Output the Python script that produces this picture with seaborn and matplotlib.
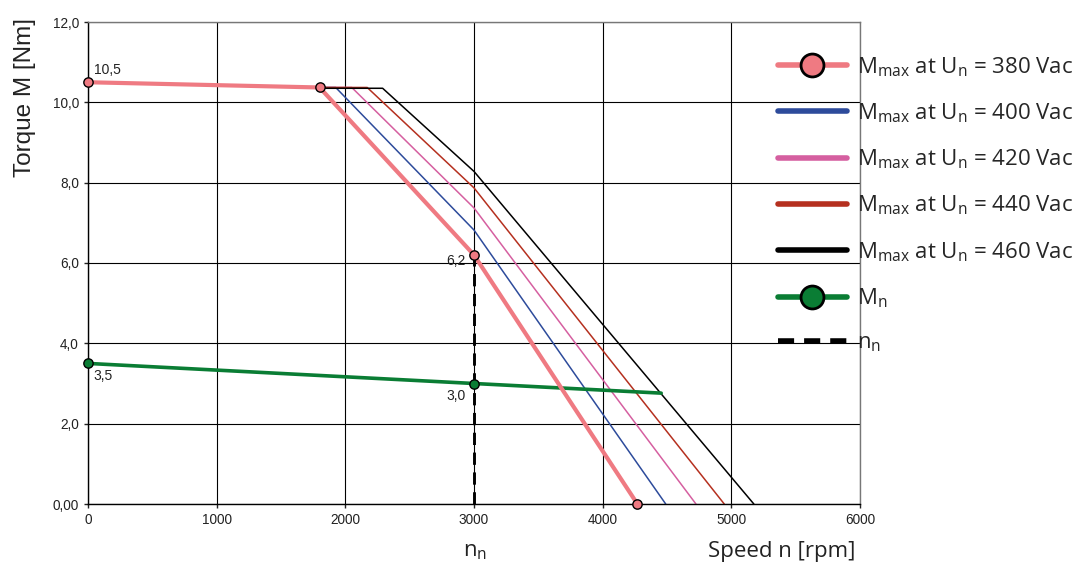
import pandas as pd
import matplotlib.pyplot as plt
import seaborn as sns
from matplotlib.lines import Line2D

# corner points of the curves, speed [rpm] / torque [Nm]
speed_380 = [0, 1800, 3000, 4270]
torque_380 = [10.5, 10.37, 6.2, 0.0]
speed_400 = [1800, 1925, 3000, 4490]
torque_400 = [10.37, 10.37, 6.82, 0.0]
speed_420 = [1800, 2050, 3000, 4725]
torque_420 = [10.37, 10.37, 7.37, 0.0]
speed_440 = [1800, 2170, 3000, 4945]
torque_440 = [10.37, 10.37, 7.87, 0.0]
speed_460 = [1800, 2290, 3000, 5175]
torque_460 = [10.35, 10.35, 8.28, 0.0]
speed_mn = [0, 1800, 3000, 4455]
torque_mn = [3.5, 3.2, 3.0, 2.76]
speed_nn = [3000, 3000]
torque_nn = [0.0, 6.2]

# marked points and their value labels
pts_380_x = [0, 1800, 3000, 4270]
pts_380_y = [10.5, 10.37, 6.2, 0.0]
pts_mn_x = [0, 3000]
pts_mn_y = [3.5, 3.0]
value_labels = ["10,5", "6,2", "3,5", "3,0"]
value_x = [0, 3000, 0, 3000]
value_y = [10.5, 6.2, 3.5, 3.0]

x_ticks = [0, 1000, 2000, 3000, 4000, 5000, 6000]
y_ticks = [0, 2, 4, 6, 8, 10, 12]
y_ticklabels = ["0,00", "2,0", "4,0", "6,0", "8,0", "10,0", "12,0"]

voltages = ["380", "400", "420", "440", "460"]
colors = ["#EF7A82", "#2D4B9B", "#D55FA0", "#B5301F", "#000000"]
green = "#0A7D34"

sns.set_style("white")
plt.rcParams['font.family'] = ['Liberation Sans', 'DejaVu Sans']
plt.rcParams['mathtext.fontset'] = 'custom'
plt.rcParams['mathtext.rm'] = 'Open Sans'
plt.rcParams['mathtext.it'] = 'Open Sans'

fig = plt.figure(figsize=(10.9, 5.66), dpi=100)
ax = fig.add_axes([88 / 1090, 1 - 504 / 566, (860 - 88) / 1090, (504 - 22) / 566])

# thin curves for the higher voltages
thin = [(speed_400, torque_400), (speed_420, torque_420),
        (speed_440, torque_440), (speed_460, torque_460)]
for (sx, ty), c in zip(thin, colors[1:]):
    sns.lineplot(x=sx, y=ty, ax=ax, color=c, lw=1.1, sort=False, estimator=None)

sns.lineplot(x=speed_mn, y=torque_mn, ax=ax, color=green, lw=2.6, sort=False, estimator=None)
sns.lineplot(x=speed_380, y=torque_380, ax=ax, color=colors[0], lw=3.0, sort=False, estimator=None)
ax.plot(speed_nn, torque_nn, color="black", lw=2.1, dashes=(4.2, 2.6), zorder=3)

sns.scatterplot(x=pts_380_x, y=pts_380_y, ax=ax, color=colors[0], edgecolor="black",
                linewidth=1, s=45, zorder=5, clip_on=False)
sns.scatterplot(x=pts_mn_x, y=pts_mn_y, ax=ax, color=green, edgecolor="black",
                linewidth=1, s=45, zorder=5, clip_on=False)

offsets = [(4, 4, "left", "bottom"), (-6, -4, "right", "center"),
           (4, -4, "left", "top"), (-6, -4, "right", "top")]
for txt, vx, vy, (dx, dy, ha, va) in zip(value_labels, value_x, value_y, offsets):
    ax.annotate(txt, (vx, vy), xytext=(dx, dy), textcoords="offset points",
                ha=ha, va=va, fontsize=10, color="#222222")

ax.set_xlim(0, 6000)
ax.set_ylim(0, 12)
ax.set_xticks(x_ticks)
ax.set_yticks(y_ticks)
ax.set_yticklabels(y_ticklabels)
ax.tick_params(axis="both", labelsize=9.8, length=3, width=1, direction="out",
               colors="#222222", left=True, bottom=True)
ax.grid(True, color="black", lw=0.8)
ax.set_axisbelow(True)
for side in ["left", "bottom"]:
    ax.spines[side].set_color("black")
for side in ["right", "top"]:
    ax.spines[side].set_color("#777777")
for sp in ax.spines.values():
    sp.set_linewidth(1.0)

fig.text(0.023, 1 - 18 / 566, "Torque M [Nm]", rotation=90, ha="center", va="top",
         fontsize=17.5, color="#222222")
fig.text(782 / 1090, 1 - 551 / 566, "Speed n [rpm]", ha="center", va="center",
         fontsize=16, family="Open Sans", color="#222222")
fig.text(475 / 1090, 1 - 551 / 566, r"n$_\mathrm{n}$", ha="center", va="center",
         fontsize=16, family="Open Sans", color="#222222")

handles = [Line2D([], [], color=colors[0], lw=4, marker="o", markersize=16.5,
                  markerfacecolor=colors[0], markeredgecolor="black", markeredgewidth=2)]
for c in colors[1:]:
    handles.append(Line2D([], [], color=c, lw=4))
handles.append(Line2D([], [], color=green, lw=4, marker="o", markersize=16.5,
                      markerfacecolor=green, markeredgecolor="black", markeredgewidth=2))
handles.append(Line2D([], [], color="black", lw=4, dashes=(2.9, 1.8)))
labels = [r"M$_\mathrm{max}$ at U$_\mathrm{n}$ = " + v + " Vac" for v in voltages]
labels += [r"M$_\mathrm{n}$", r"n$_\mathrm{n}$"]

fig.legend(handles, labels, loc="upper left", bbox_to_anchor=(778 / 1090, 1 - 55 / 566),
           frameon=False, prop={"family": "Open Sans", "size": 16}, handlelength=3.1,
           handletextpad=0.45, labelspacing=1.02, borderpad=0, borderaxespad=0)

fig.savefig("out.png", dpi=100)
